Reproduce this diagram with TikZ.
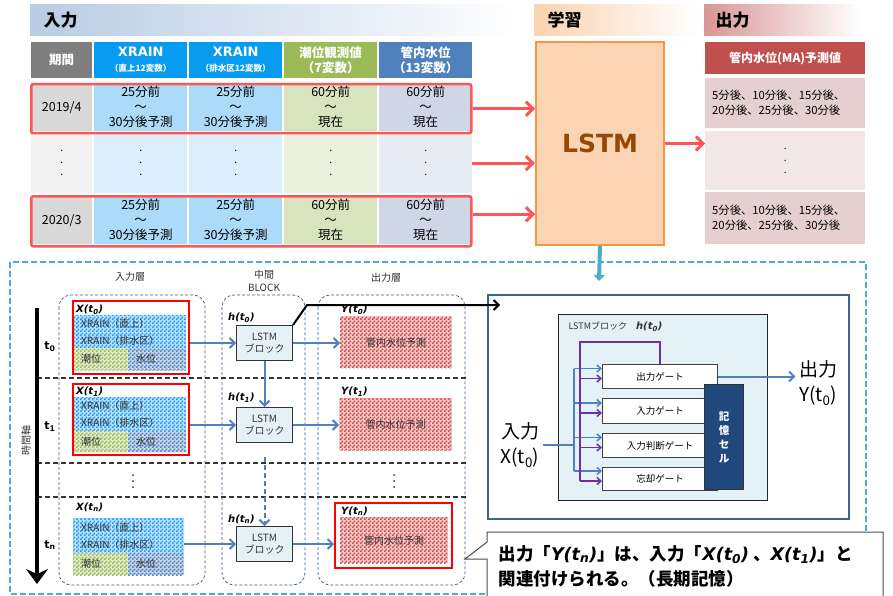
\documentclass[tikz,border=0pt]{standalone}
\usepackage{fontspec}
\setmainfont{Noto Sans CJK JP}
\newfontfamily\vfont{DejaVu Sans}
\usetikzlibrary{arrows.meta,patterns,positioning}

\newcommand{\fsz}[2]{\fontsize{#1}{#2}\selectfont}

\definecolor{barblue}{HTML}{B8CCE4}
\definecolor{barorange}{HTML}{FAD3B0}
\definecolor{barred}{HTML}{D99694}
\definecolor{hdgray}{HTML}{7F7F7F}
\definecolor{hdblue}{HTML}{089CF0}
\definecolor{hdgreen}{HTML}{9BBB59}
\definecolor{hdsteel}{HTML}{4F81BD}
\definecolor{gray1}{HTML}{D9D9D9}
\definecolor{blue1}{HTML}{ABDBF8}
\definecolor{green1}{HTML}{D7E4BD}
\definecolor{steel1}{HTML}{CFD6E6}
\definecolor{gray2}{HTML}{F2F2F2}
\definecolor{blue2}{HTML}{DAEEFB}
\definecolor{green2}{HTML}{EBF1DE}
\definecolor{steel2}{HTML}{E7EBF3}
\definecolor{redline}{HTML}{FF5555}
\definecolor{lstmfill}{HTML}{FBD4B4}
\definecolor{lstmedge}{HTML}{F79646}
\definecolor{lstmtext}{HTML}{974706}
\definecolor{outhead}{HTML}{C0504D}
\definecolor{outrow}{HTML}{E6CFCF}
\definecolor{outrow2}{HTML}{F2E6E6}
\definecolor{cyanline}{HTML}{4BACC6}
\definecolor{layerblue}{HTML}{385D8A}
\definecolor{patblue}{HTML}{1E9BF0}
\definecolor{patgreen}{HTML}{9BBB59}
\definecolor{patsteel}{HTML}{4F81BD}
\definecolor{patred}{HTML}{D24B4B}
\definecolor{blkfill}{HTML}{E4F2F8}
\definecolor{bigblue}{HTML}{41628F}
\definecolor{memblue}{HTML}{1F497D}
\definecolor{gatepurple}{HTML}{7030A0}
\definecolor{arrowblue}{HTML}{4F81BD}
\definecolor{textgray}{HTML}{333333}

\pgfdeclarepatternformonly{checks}{\pgfpointorigin}{\pgfqpoint{4pt}{4pt}}{\pgfqpoint{4pt}{4pt}}{%
  \pgfpathrectangle{\pgfpointorigin}{\pgfqpoint{2pt}{2pt}}%
  \pgfpathrectangle{\pgfqpoint{2pt}{2pt}}{\pgfqpoint{2pt}{2pt}}%
  \pgfusepath{fill}}

\tikzset{
  bar/.style={anchor=north west, minimum height=31pt, inner sep=0pt},
  bartext/.style={anchor=west, font=\fsz{17}{20}\bfseries},
  headcell/.style={anchor=north west, inner sep=0pt, align=center, minimum height=36pt, text=white, font=\fsz{12.5}{15}\bfseries},
  cell/.style={anchor=north west, inner sep=0pt, align=center, minimum height=48pt, font=\fsz{12.5}{15}},
  rowframe/.style={anchor=north west, draw=redline, line width=2.5pt, rounded corners=2pt, inner sep=0pt},
  outcell/.style={anchor=north west, minimum width=160pt, text width=146pt, inner xsep=7pt, inner ysep=0pt, align=left, font=\fsz{11.3}{15}},
  redarrow/.style={draw=redline, line width=3pt, -{Straight Barb[length=7pt,width=14pt]}},
  cyanarrow/.style={draw=cyanline, line width=4pt, -{Triangle[length=6pt,width=11pt]}},
  smalltext/.style={font=\fsz{10}{13}, text=textgray, align=center},
  layer/.style={draw=layerblue, line width=0.7pt, dash pattern=on 3pt off 2pt, rounded corners=12pt},
  sepline/.style={draw=black!80, line width=1.2pt, dash pattern=on 5pt off 3pt},
  patfill/.style={pattern=checks, pattern color=#1, preaction={fill=#1!30}},
  pat/.style={anchor=north west, inner xsep=8pt, inner ysep=0pt, align=left, text=textgray, font=\fsz{10}{17}},
  frame/.style={anchor=north west, draw=red, line width=2pt, inner sep=0pt},
  ital/.style={anchor=west, inner sep=0pt, font=\vfont\fsz{10}{12}\bfseries\itshape},
  tlabel/.style={font=\vfont\fsz{11}{13}\bfseries},
  lstmbox/.style={anchor=north west, minimum width=56pt, minimum height=35pt, inner sep=0pt, draw=black!80, line width=1pt, fill=blkfill, align=center, text=textgray, font=\fsz{10}{12}},
  ybox/.style={anchor=north west, inner sep=0pt, patfill=patred, text=textgray, font=\fsz{10}{12}},
  barrow/.style={draw=arrowblue, line width=2pt, -{Straight Barb[length=5pt,width=10pt]}},
  karrow/.style={draw=black, line width=2pt, -{Straight Barb[length=5pt,width=10pt]}},
  gate/.style={anchor=north west, minimum width=115pt, inner sep=0pt, draw=black!75, line width=1pt, fill=white, font=\fsz{9.5}{11}},
  bline/.style={draw=arrowblue, line width=2pt},
  bgate/.style={draw=arrowblue, line width=1.5pt, -{Straight Barb[length=4pt,width=7pt]}},
  pline/.style={draw=gatepurple, line width=1.5pt},
  pgate/.style={draw=gatepurple, line width=1.5pt, -{Straight Barb[length=4pt,width=7pt]}},
  biglab/.style={align=center, font=\fsz{19}{25}},
}

\begin{document}
\begin{tikzpicture}[x=1pt,y=-1pt]
\useasboundingbox (0,0) rectangle (893,596);

% section bars
\node[bar, left color=barblue, right color=white, minimum width=490pt] (inbar) at (30,4) {};
\node[bartext] (intitle) at ([xshift=10pt]inbar.west) {入力};
\node[bar, left color=barorange, right color=white, minimum width=165pt] (learnbar) at (534,4) {};
\node[bartext] (learntitle) at ([xshift=10pt]learnbar.west) {学習};
\node[bar, left color=barred, right color=white, minimum width=155pt] (outbar) at (704,4) {};
\node[bartext] (outtitle) at ([xshift=8pt]outbar.west) {出力};

% input table
\node[headcell, fill=hdgray, minimum width=61pt] (hd0) at (31,42) {期間};
\node[headcell, fill=hdblue, minimum width=93pt] (hd1) at (94,42) {{\vfont\fsz{13}{15}\bfseries XRAIN}\\{\fsz{8.5}{11}（直上12変数）}};
\node[headcell, fill=hdblue, minimum width=93pt] (hd2) at (189,42) {{\vfont\fsz{13}{15}\bfseries XRAIN}\\{\fsz{8.5}{11}（排水区12変数）}};
\node[headcell, fill=hdgreen, minimum width=93pt] (hd3) at (284,42) {潮位観測値\\（7変数）};
\node[headcell, fill=hdsteel, minimum width=93pt] (hd4) at (379,42) {管内水位\\（13変数）};

\node[cell, fill=gray1, minimum width=61pt] (r1c0) at (31,83) {2019/4};
\node[cell, fill=blue1, minimum width=93pt] (r1c1) at (94,83) {25分前\\～\\30分後予測};
\node[cell, fill=blue1, minimum width=93pt] (r1c2) at (189,83) {25分前\\～\\30分後予測};
\node[cell, fill=green1, minimum width=93pt] (r1c3) at (284,83) {60分前\\～\\現在};
\node[cell, fill=steel1, minimum width=93pt] (r1c4) at (379,83) {60分前\\～\\現在};

\node[cell, fill=gray2, minimum width=61pt, minimum height=60pt, font=\fsz{10}{12}] (r2c0) at (31,133) {.\\.\\.};
\node[cell, fill=blue2, minimum width=93pt, minimum height=60pt, font=\fsz{10}{12}] (r2c1) at (94,133) {.\\.\\.};
\node[cell, fill=blue2, minimum width=93pt, minimum height=60pt, font=\fsz{10}{12}] (r2c2) at (189,133) {.\\.\\.};
\node[cell, fill=green2, minimum width=93pt, minimum height=60pt, font=\fsz{10}{12}] (r2c3) at (284,133) {.\\.\\.};
\node[cell, fill=steel2, minimum width=93pt, minimum height=60pt, font=\fsz{10}{12}] (r2c4) at (379,133) {.\\.\\.};

\node[cell, fill=gray1, minimum width=61pt] (r3c0) at (31,196) {2020/3};
\node[cell, fill=blue1, minimum width=93pt] (r3c1) at (94,196) {25分前\\～\\30分後予測};
\node[cell, fill=blue1, minimum width=93pt] (r3c2) at (189,196) {25分前\\～\\30分後予測};
\node[cell, fill=green1, minimum width=93pt] (r3c3) at (284,196) {60分前\\～\\現在};
\node[cell, fill=steel1, minimum width=93pt] (r3c4) at (379,196) {60分前\\～\\現在};

\node[rowframe, minimum width=440pt, minimum height=49pt] (fr1) at (30,83) {};
\node[rowframe, minimum width=440pt, minimum height=50pt] (fr3) at (30,195) {};

% learning block
\node[anchor=north west, minimum width=128pt, minimum height=203pt, fill=lstmfill, draw=lstmedge, line width=2pt, text=lstmtext, font=\vfont\fsz{25}{28}\bfseries] (lstm) at (535,41) {LSTM};

% output table
\node[headcell, fill=outhead, minimum width=160pt, minimum height=32pt, font=\fsz{12}{15}\bfseries] (ohd) at (705,42) {管内水位(MA)予測値};
\node[outcell, fill=outrow, minimum height=50pt] (o1) at (705,78) {5分後、10分後、15分後、\\20分後、25分後、30分後};
\node[outcell, fill=outrow2, minimum height=59pt, align=center, font=\fsz{10}{12}] (o2) at (705,131) {.\\.\\.};
\node[outcell, fill=outrow, minimum height=52pt] (o3) at (705,192) {5分後、10分後、15分後、\\20分後、25分後、30分後};

\coordinate (a3) at ([yshift=7pt]fr3.east);
\draw[redarrow] (fr1.east) -- (fr1.east -| lstm.west);
\draw[redarrow] (r2c4.east) -- (r2c4.east -| lstm.west);
\draw[redarrow] (a3) -- (a3 -| lstm.west);
\draw[redarrow] (lstm.east) -- (lstm.east -| o2.west);

% lower panel
\draw[draw=cyanline, line width=2pt, dash pattern=on 6pt off 3pt] (10,262) rectangle (866,594);
\coordinate (down) at (599,281);
\draw[cyanarrow] (lstm.south) -- (down);

\node[smalltext] (inlayer) at (130,277) {入力層};
\node[smalltext] (midlayer) at (264,281) {中間\\BLOCK};
\node[smalltext] (outlayer) at (386,278) {出力層};

\draw[layer] (59,295) rectangle (205,585);
\draw[layer] (222,295) rectangle (305,585);
\draw[layer] (318,295) rectangle (465,585);

\draw[sepline] (37,378) -- (466,378);
\draw[sepline] (37,463) -- (466,463);
\draw[sepline] (37,497) -- (466,497);

\coordinate (ttop) at (37,308);
\coordinate (tbot) at (37,584);
\draw[line width=3.5pt, -{Stealth[length=15pt,width=22pt,inset=5pt]}] (ttop) -- (tbot);
\node[rotate=90, font=\fsz{10}{12}, text=textgray] (axis) at (26,440) {時間軸};

\node[tlabel] (t0) at (50,347) {t\textsubscript{0}};
\node[tlabel] (t1) at (50,427) {t\textsubscript{1}};
\node[tlabel] (tn) at (50,545) {t\textsubscript{n}};

% input layer
\node[pat, patfill=patblue, text width=97pt, minimum height=33pt] (xb0) at (73,315) {XRAIN（直上）\\XRAIN（排水区）};
\node[pat, patfill=patgreen, text width=39pt, minimum height=22pt] (xg0) at (73,348) {潮位};
\node[pat, patfill=patsteel, text width=42pt, minimum height=22pt] (xw0) at (128,348) {水位};
\node[frame, minimum width=116pt, minimum height=73pt] (xf0) at (72,300) {};
\node[ital] (xl0) at (76,310) {X(t\textsubscript{0})};

\node[pat, patfill=patblue, text width=97pt, minimum height=34pt] (xb1) at (73,397) {XRAIN（直上）\\XRAIN（排水区）};
\node[pat, patfill=patgreen, text width=39pt, minimum height=21pt] (xg1) at (73,431) {潮位};
\node[pat, patfill=patsteel, text width=42pt, minimum height=21pt] (xw1) at (128,431) {水位};
\node[frame, minimum width=116pt, minimum height=71pt] (xf1) at (72,383) {};
\node[ital] (xl1) at (76,392) {X(t\textsubscript{1})};

\node[pat, patfill=patblue, text width=95pt, minimum height=35pt] (xbn) at (73,518) {XRAIN（直上）\\XRAIN（排水区）};
\node[pat, patfill=patgreen, text width=39pt, minimum height=22pt] (xgn) at (73,553) {潮位};
\node[pat, patfill=patsteel, text width=40pt, minimum height=22pt] (xwn) at (128,553) {水位};
\node[ital] (xln) at (76,507) {X(t\textsubscript{n})};

% middle block
\node[lstmbox] (m0) at (236,325) {LSTM\\ブロック};
\node[lstmbox] (m1) at (236,407) {LSTM\\ブロック};
\node[lstmbox] (mn) at (236,526) {LSTM\\ブロック};
\node[ital] (hl0) at (228,318) {h(t\textsubscript{0})};
\node[ital] (hl1) at (228,398) {h(t\textsubscript{1})};
\node[ital] (hln) at (228,519) {h(t\textsubscript{n})};

% output layer
\node[ybox, minimum width=112pt, minimum height=52pt] (y0) at (340,316) {管内水位予測};
\node[ybox, minimum width=113pt, minimum height=52pt] (y1) at (339,398) {管内水位予測};
\node[ybox, minimum width=108pt, minimum height=46pt] (yn) at (340,517) {管内水位予測};
\node[frame, minimum width=117pt, minimum height=65pt] (yfn) at (334,502) {};
\node[ital] (yl0) at (341,310) {Y(t\textsubscript{0})};
\node[ital] (yl1) at (341,392) {Y(t\textsubscript{1})};
\node[ital] (yln) at (341,511) {Y(t\textsubscript{n})};

% vertical dots
\fill[black!80] (133,475) circle (1pt) (133,481) circle (1pt) (133,487) circle (1pt);
\fill[black!80] (394,475) circle (1pt) (394,481) circle (1pt) (394,487) circle (1pt);

\draw[barrow] (xf0.east |- m0.west) -- (m0.west);
\draw[barrow] (xf1.east |- m1.west) -- (m1.west);
\draw[barrow] (xbn.east |- mn.west) -- (mn.west);
\draw[barrow] (m0.east) -- (m0.east -| y0.west);
\draw[barrow] (m1.east) -- (m1.east -| y1.west);
\draw[barrow] (mn.east) -- (mn.east -| yfn.west);
\draw[barrow] (m0.south) -- (m1.north);
\draw[barrow, dash pattern=on 5pt off 3pt] ([yshift=-14pt]m1.south) -- (mn.north);

% LSTM block detail
\node[anchor=north west, minimum width=361pt, minimum height=224pt, draw=bigblue, line width=2pt, fill=white] (big) at (487,294) {};
\coordinate (kink) at (307,305);
\coordinate (kend) at (500,305);
\draw[karrow] (m0.north east) -- (kink) -- (kend);

\node[anchor=north west, minimum width=209pt, minimum height=186pt, draw=black!85, line width=1pt, fill=blkfill] (blk) at (558,314) {};
\node[anchor=west, font=\fsz{9}{11}, text=textgray] (blklabel) at (565,327) {LSTMブロック\quad{\vfont\fsz{10}{12}\bfseries\itshape h(t\textsubscript{0})}};

\node[gate, minimum height=24pt] (g1) at (602,364) {出力ゲート};
\node[gate, minimum height=25pt] (g2) at (602,398) {入力ゲート};
\node[gate, minimum height=24pt] (g3) at (602,433) {入力判断ゲート};
\node[gate, minimum height=23pt] (g4) at (602,467) {忘却ゲート};
\node[anchor=north west, minimum width=39pt, minimum height=105pt, inner sep=0pt, fill=memblue, draw=black!80, line width=1pt, text=white, align=center, font=\fsz{10.5}{14}\bfseries] (mem) at (704,384) {記\\憶\\セ\\ル};

\coordinate (trunk) at ([shift={(-28pt,8pt)}]g1.west);
\draw[bline] (trunk) -- ([shift={(-28pt,8pt)}]g4.west);
\draw[bgate] (trunk) -- ([yshift=8pt]g1.west);
\draw[bgate] ([shift={(-28pt,8pt)}]g2.west) -- ([yshift=8pt]g2.west);
\draw[bgate] ([shift={(-28pt,8pt)}]g3.west) -- ([yshift=8pt]g3.west);
\draw[bgate] ([shift={(-28pt,8pt)}]g4.west) -- ([yshift=8pt]g4.west);
\draw[pline] (g1.north) -- ++(0,-22) -| ([shift={(-22pt,-2pt)}]g4.west);
\draw[pgate] ([shift={(-22pt,-2pt)}]g1.west) -- ([yshift=-2pt]g1.west);
\draw[pgate] ([shift={(-22pt,-2pt)}]g2.west) -- ([yshift=-2pt]g2.west);
\draw[pgate] ([shift={(-22pt,-2pt)}]g3.west) -- ([yshift=-2pt]g3.west);
\draw[pgate] ([shift={(-22pt,-2pt)}]g4.west) -- ([yshift=-2pt]g4.west);

\node[biglab] (inlab) at (520,445) {入力\\X(t\textsubscript{0})};
\node[biglab] (outlab) at (818,383) {出力\\Y(t\textsubscript{0})};
\draw[bline] (inlab.east) -- (inlab.east -| trunk);
\draw[barrow] (g1.east) -- (g1.east -| outlab.west);

% note
\draw[draw=black!70, line width=1pt, fill=white] (487,532) -- (883,532) -- (883,598) -- (487,598) -- (487,559) -- (465,559) -- (487,542) -- cycle;
\node[anchor=west, align=left, font=\fsz{17.5}{25}\bfseries] (note) at (495,566) {出力「{\vfont\itshape Y(t\textsubscript{n})}」は、入力「{\vfont\itshape X(t\textsubscript{0})} 、{\vfont\itshape X(t\textsubscript{1})}」と\\関連付けられる。（長期記憶）};
\end{tikzpicture}
\end{document}
